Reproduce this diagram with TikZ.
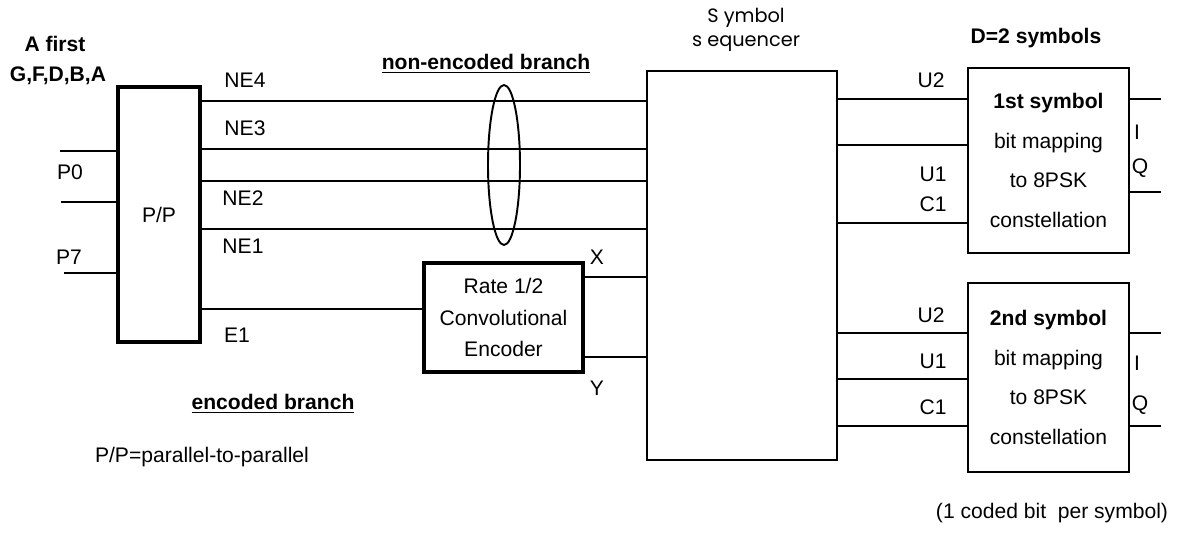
\documentclass[tikz,border=0pt]{standalone}
\usepackage{fontspec}
\setmainfont{Liberation Sans}
\newfontfamily\seqfont{Poppins}
\usetikzlibrary{shapes.geometric, positioning, calc}

\begin{document}
\begin{tikzpicture}[
  x=0.02cm, y=-0.02cm,
  every node/.style={font=\fontsize{12}{14}\selectfont},
  wire/.style={line width=1.1pt},
  thinwire/.style={line width=0.6pt},
  heavybox/.style={draw, line width=2.6pt, inner sep=0pt, align=center},
  plainbox/.style={draw, line width=1.3pt, inner sep=0pt, align=center},
  lbl/.style={inner sep=0pt, anchor=center}
]
  \useasboundingbox (0,0) rectangle (1177,536);

  \node[heavybox, minimum width=1.64cm, minimum height=5.1cm] (pp) at (159,214.5) {P/P};
  \node[heavybox, minimum width=3.18cm, minimum height=2.18cm,
        font=\fontsize{12}{18}\selectfont] (enc) at (503.5,317.5)
    {Rate 1/2\\Convolutional\\Encoder};
  \node[plainbox, minimum width=3.8cm, minimum height=7.78cm] (seq) at (742,265.5) {};
  \node[plainbox, minimum width=3.22cm, minimum height=3.7cm,
        font=\fontsize{12}{22.7}\selectfont] (map1) at (1048.5,160.5)
    {\textbf{1st symbol}\\bit mapping\\to 8PSK\\constellation};
  \node[plainbox, minimum width=3.22cm, minimum height=3.78cm,
        font=\fontsize{12}{22.7}\selectfont] (map2) at (1048.5,377.5)
    {\textbf{2nd symbol}\\bit mapping\\to 8PSK\\constellation};
  \node[draw, ellipse, line width=1.1pt, minimum width=0.64cm, minimum height=3.2cm,
        inner sep=0pt] (bundle) at (504,165) {};

  % inputs of the P/P
  \coordinate (p0) at (60,151);
  \coordinate (pmid) at (61,202);
  \coordinate (p7) at (64,273);
  \draw[wire] (p0) -- (pp.west |- p0);
  \draw[thinwire] (pmid) -- (pp.west |- pmid);
  \draw[wire] (p7) -- (pp.west |- p7);

  % non-encoded branch
  \foreach \yy in {101,149,181,229}
    \draw[wire] (pp.east |- 0,\yy) -- (seq.west |- 0,\yy);

  % encoded branch
  \draw[wire] (pp.east |- 0,309) -- (enc.west |- 0,309);
  \draw[wire] (enc.east |- 0,277) -- (seq.west |- 0,277);
  \draw[wire] (enc.east |- 0,357) -- (seq.west |- 0,357);

  % to the mappers
  \foreach \yy in {99,145,223}
    \draw[wire] (seq.east |- 0,\yy) -- (map1.west |- 0,\yy);
  \foreach \yy in {333,379,426}
    \draw[wire] (seq.east |- 0,\yy) -- (map2.west |- 0,\yy);
  \coordinate (out1) at (1161,0);
  \foreach \yy in {99,192}
    \draw[wire] (map1.east |- 0,\yy) -- (out1 |- 0,\yy);
  \foreach \yy in {333,426}
    \draw[wire] (map2.east |- 0,\yy) -- (out1 |- 0,\yy);

  \node[lbl] (first) at (55,44) {\textbf{A first}};
  \node[lbl] (order) at (58,76) {\textbf{G,F,D,B,A}};
  \node[lbl] (lp0) at (70,172) {P0};
  \node[lbl] (lp7) at (69,257) {P7};
  \node[lbl] (ne4) at (245,80) {NE4};
  \node[lbl] (ne3) at (245,128) {NE3};
  \node[lbl] (ne2) at (243,198) {NE2};
  \node[lbl] (ne1) at (243,246) {NE1};
  \node[lbl] (e1) at (237,335) {E1};
  \node[lbl] (nonenc) at (486,64) {\underline{\textbf{non-encoded branch}}};
  \node[lbl] (encb) at (273,404) {\underline{\textbf{encoded branch}}};
  \node[lbl] (ppdef) at (202,457) {P/P=parallel-to-parallel};
  \node[lbl] (lx) at (597,257) {X};
  \node[lbl] (ly) at (597,388) {Y};
  \node[lbl, font=\seqfont\fontsize{11}{13}\selectfont, align=center] (seqname) at (746,30)
    {S ymbol\\[1pt]s equencer};
  \node[lbl] (dsym) at (1036,38) {\textbf{D=2 symbols}};
  \node[lbl] (u2a) at (931,80) {U2};
  \node[lbl] (u1a) at (933,174) {U1};
  \node[lbl] (c1a) at (933,204) {C1};
  \node[lbl] (u2b) at (931,315) {U2};
  \node[lbl] (u1b) at (933,361) {U1};
  \node[lbl] (c1b) at (933,407) {C1};
  \node[lbl] (ia) at (1137,132) {I};
  \node[lbl] (qa) at (1140,168) {Q};
  \node[lbl] (ib) at (1137,363) {I};
  \node[lbl] (qb) at (1140,405) {Q};
  \node[lbl] (note) at (1052,513) {(1 coded bit\ \ per symbol)};
\end{tikzpicture}
\end{document}
